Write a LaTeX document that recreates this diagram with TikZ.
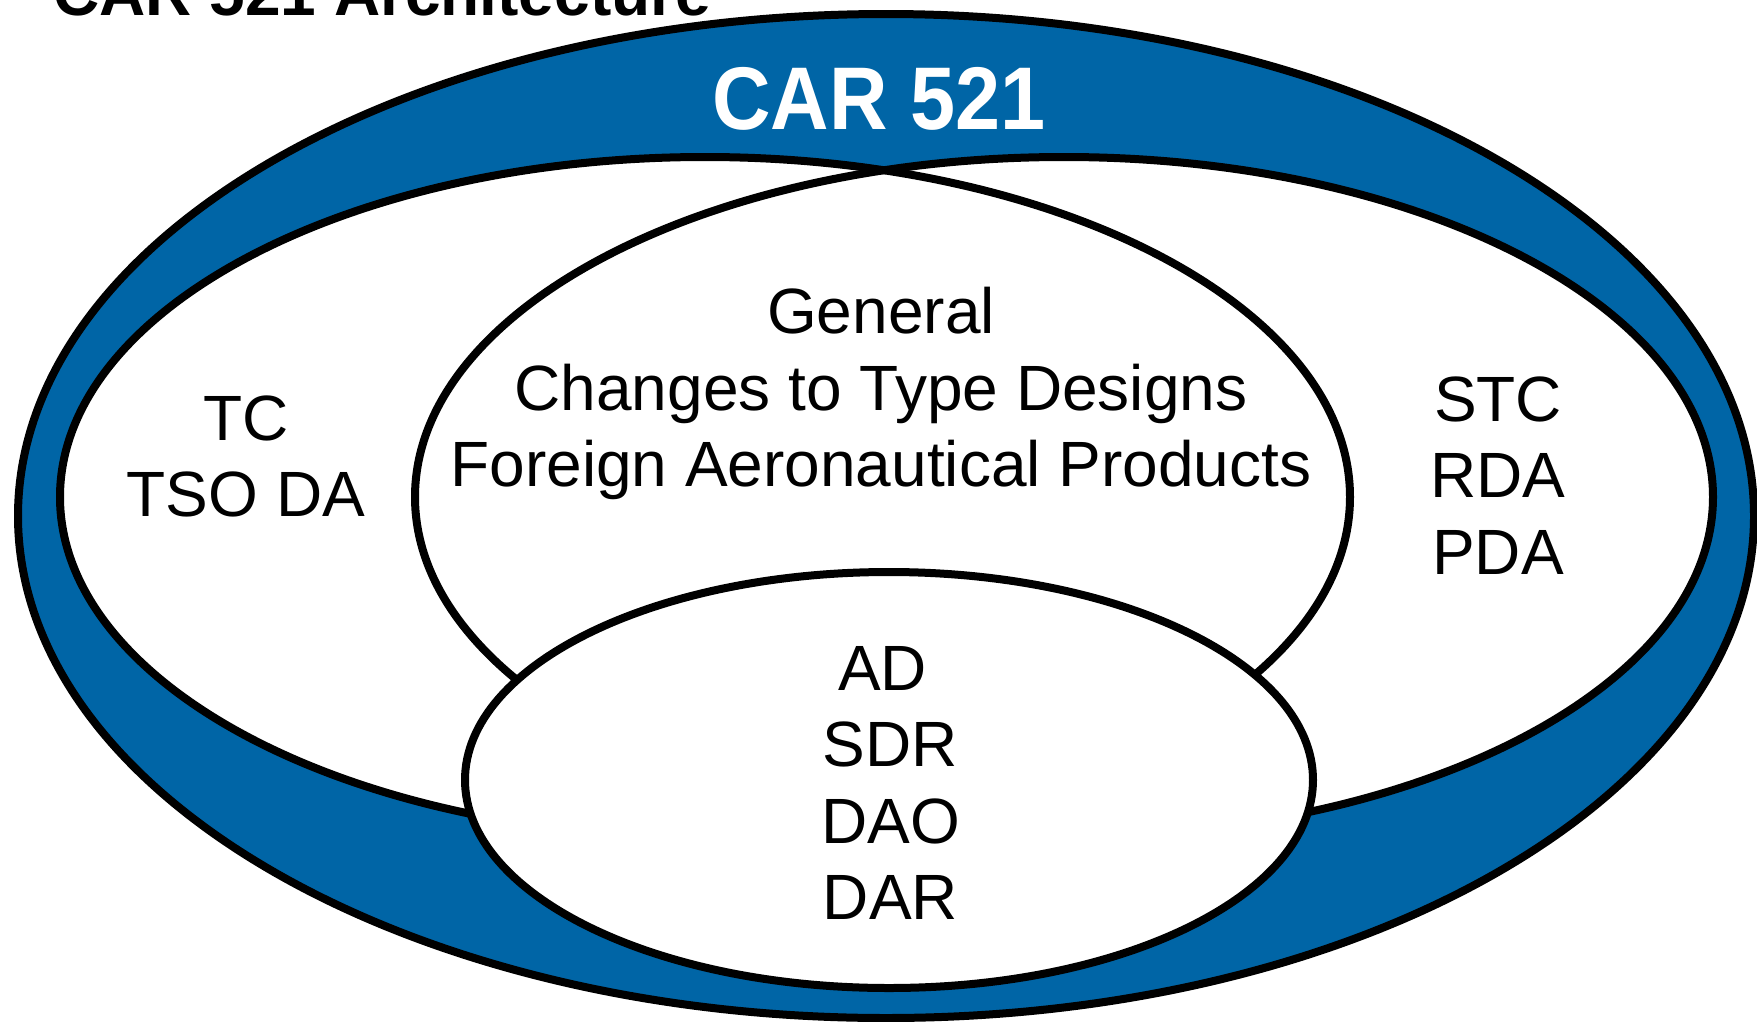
\documentclass[tikz,border=0pt]{standalone}
\usepackage{fontspec}
\setmainfont{Liberation Sans}
\definecolor{carblue}{RGB}{0,101,166}
\tikzset{
  ring/.style={line width=8pt, draw=black},
  lbl/.style={font=\fontsize{64}{76.5}\selectfont, align=center, inner sep=0pt},
}
\begin{document}
\begin{tikzpicture}[x=1pt,y=-1pt]
\useasboundingbox (0,0) rectangle (1757,1021);
\clip (0,0) rectangle (1757,1021);
% outer ellipse
\filldraw[ring, fill=carblue] (886,516) ellipse [x radius=868pt, y radius=502pt];
% two overlapping ellipses
\fill[white] (705,497) ellipse [x radius=645pt, y radius=340pt];
\fill[white] (1064,497) ellipse [x radius=649pt, y radius=340pt];
\draw[ring] (705,497) ellipse [x radius=645pt, y radius=340pt];
\draw[ring] (1064,497) ellipse [x radius=649pt, y radius=340pt];
% bottom ellipse
\filldraw[ring, fill=white] (889,780) ellipse [x radius=424pt, y radius=208pt];
% texts
\node[font=\bfseries\fontsize{64}{70}\selectfont, anchor=base west, inner sep=0pt] (title) at (53,15) {CAR 521 Architecture};
\node[font=\bfseries\fontsize{89}{100}\selectfont, text=white, xscale=0.91, transform shape, anchor=base, inner sep=0pt] (car) at (879,129) {CAR 521};
\node[lbl] (tc) at (246,456.5) {TC\\TSO DA};
\node[lbl] (gen) at (881,393.6) {General\\Changes to Type Designs\\Foreign Aeronautical Products};
\node[lbl] (stc) at (1498,475.5) {STC\\RDA\\PDA};
\node[lbl] (ad) at (890.5,783) {AD\hspace*{16pt}\\SDR\\DAO\\DAR};
\end{tikzpicture}
\end{document}
